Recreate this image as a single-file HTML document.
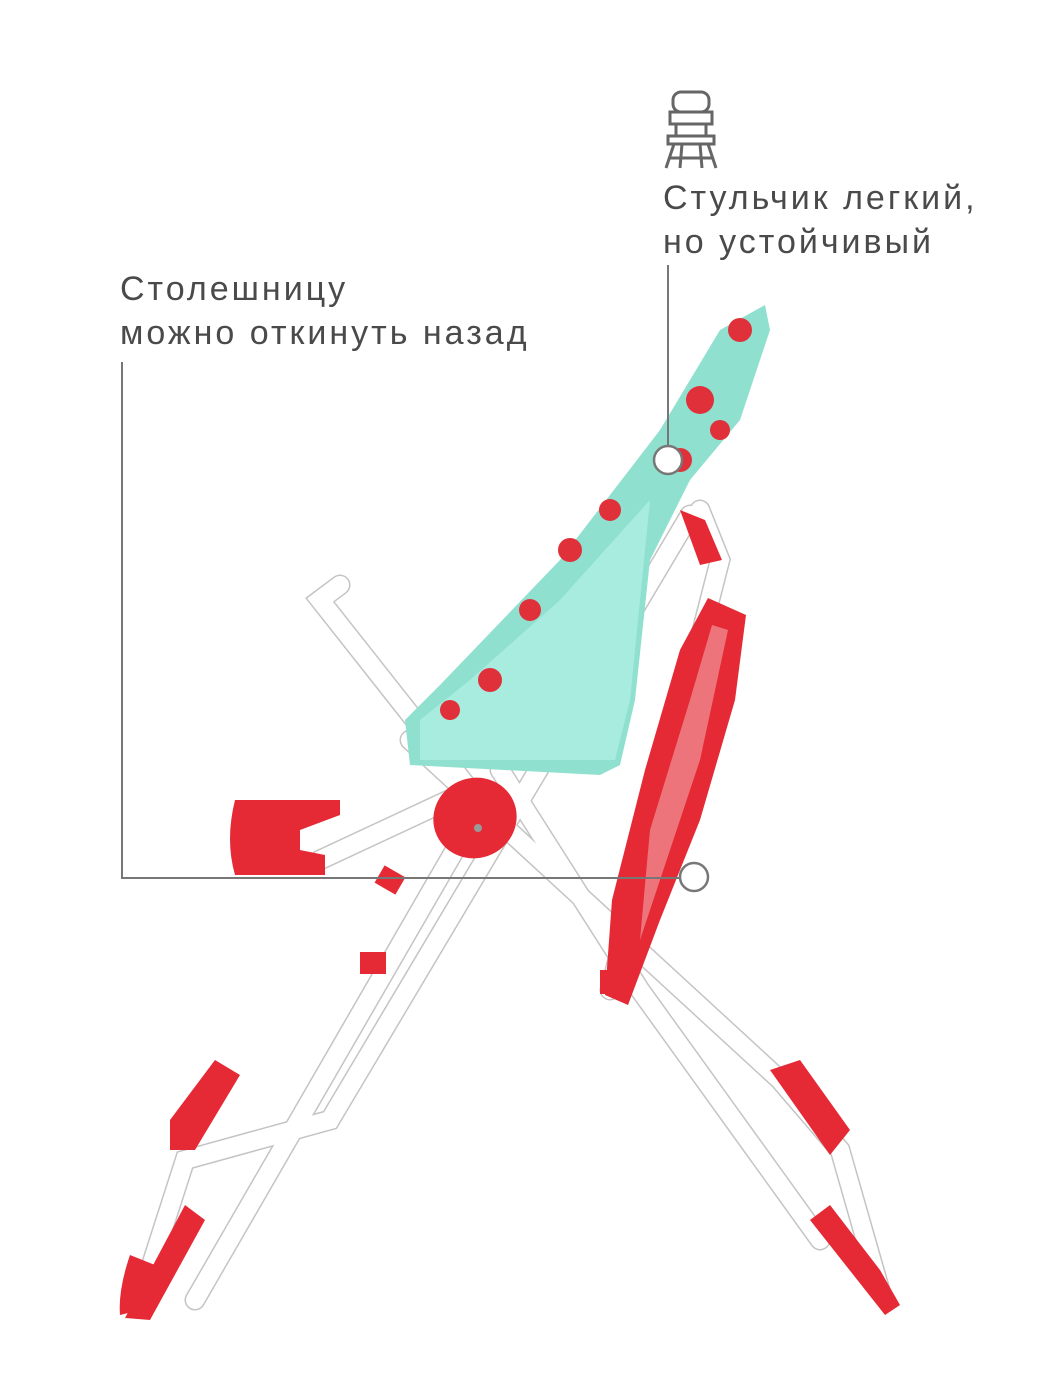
<!DOCTYPE html>
<html><head><meta charset="utf-8"><style>
html,body{margin:0;padding:0;background:#fff}
.wrap{position:relative;width:1050px;height:1400px;overflow:hidden;background:#fff}
.t{position:absolute;font-family:"Liberation Sans",sans-serif;font-size:34px;line-height:44px;color:#4a4a4a;font-weight:300;letter-spacing:3px}
</style></head><body><div class="wrap">
<div class="t" style="left:663px;top:176px">Стульчик легкий,<br>но устойчивый</div>
<div class="t" style="left:120px;top:267px">Столешницу<br>можно откинуть назад</div>
<svg width="1050" height="1400" style="position:absolute;left:0;top:0">
<g fill="none" stroke="#666" stroke-width="3">
<rect x="673" y="92" width="36" height="20" rx="8"/>
<rect x="670" y="112" width="42" height="12"/>
<line x1="676" y1="124" x2="676" y2="136"/><line x1="706" y1="124" x2="706" y2="136"/>
<rect x="668" y="136" width="46" height="8"/>
<line x1="674" y1="144" x2="666" y2="168"/><line x1="708" y1="144" x2="716" y2="168"/>
<line x1="682" y1="144" x2="680" y2="168"/><line x1="700" y1="144" x2="702" y2="168"/>
<line x1="670" y1="158" x2="712" y2="158"/>
</g>
<g stroke-linecap="round" fill="none">
<g stroke="#c4c4c4" stroke-width="21">
<path d="M690 515 L330 1120 L185 1160 L140 1300"/>
<path d="M455 850 L195 1300"/>
<path d="M410 740 L780 1080 L840 1150 L880 1290"/>
<path d="M500 770 L640 990 L820 1240"/>
<path d="M340 585 L320 600 L470 790 L320 860"/>
<path d="M700 510 L720 560 L610 990"/>
</g>
<g stroke="#fff" stroke-width="18">
<path d="M690 515 L330 1120 L185 1160 L140 1300"/>
<path d="M455 850 L195 1300"/>
<path d="M410 740 L780 1080 L840 1150 L880 1290"/>
<path d="M500 770 L640 990 L820 1240"/>
<path d="M340 585 L320 600 L470 790 L320 860"/>
<path d="M700 510 L720 560 L610 990"/>
</g>
</g>
<polygon points="405,720 440,685 560,560 660,430 720,330 765,305 770,330 740,420 690,480 650,560 635,700 620,765 600,775 410,765" fill="#8fe0cf"/>
<polygon points="420,720 470,680 560,600 650,500 630,700 615,760 420,760" fill="#a8ece0"/>
<g fill="#e0303a">
<circle cx="740" cy="330" r="12"/><circle cx="700" cy="400" r="14"/><circle cx="680" cy="460" r="12"/>
<circle cx="610" cy="510" r="11"/><circle cx="570" cy="550" r="12"/><circle cx="530" cy="610" r="11"/>
<circle cx="490" cy="680" r="12"/><circle cx="450" cy="710" r="10"/><circle cx="720" cy="430" r="10"/>
</g>
<polygon points="708,598 746,615 735,700 700,820 660,920 628,1005 605,995 612,900 645,770 680,650" fill="#e52a35"/>
<polygon points="712,625 728,630 700,760 660,880 640,940 650,830 690,700" fill="#fff" opacity="0.35"/>
<path d="M235 800 L340 800 L340 815 L300 830 L300 850 L325 855 L325 875 L235 875 Q225 840 235 800Z" fill="#e52a35"/>
<ellipse cx="475" cy="818" rx="42" ry="40" fill="#e52a35" transform="rotate(-25 475 818)"/>
<circle cx="478" cy="828" r="4" fill="#999"/>
<path d="M680 510 L705 520 L722 560 L700 565Z" fill="#e52a35"/>
<rect x="360" y="952" width="26" height="22" fill="#e52a35"/>
<rect x="378" y="870" width="24" height="20" fill="#e52a35" transform="rotate(30 390 880)"/>
<rect x="600" y="970" width="26" height="24" fill="#e52a35"/>
<path d="M170 1120 L215 1060 L240 1075 L195 1150 L170 1150Z" fill="#e52a35"/>
<path d="M770 1070 L800 1060 L850 1130 L830 1155Z" fill="#e52a35"/>
<path d="M130 1255 L155 1265 L140 1310 L120 1315 Q118 1290 130 1255Z" fill="#e52a35"/>
<path d="M185 1205 L205 1220 L150 1320 L125 1318Z" fill="#e52a35"/>
<path d="M810 1220 L830 1205 L880 1270 L900 1305 L885 1315 Z" fill="#e52a35"/>
<g stroke="#777" stroke-width="2" fill="none">
<polyline points="668,265 668,446"/>
<polyline points="122,362 122,878 680,878"/>
</g>
<circle cx="668" cy="460" r="14" fill="#fff" stroke="#777" stroke-width="2.5"/>
<circle cx="694" cy="877" r="14" fill="#fff" stroke="#777" stroke-width="2.5"/>
</svg>
</div></body></html>
